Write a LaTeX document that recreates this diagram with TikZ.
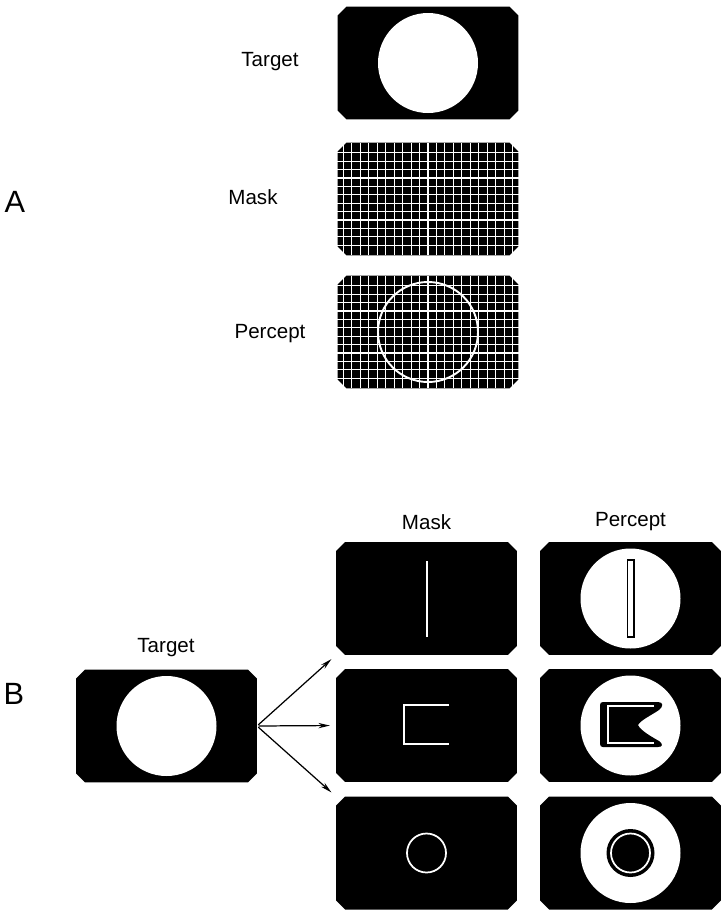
\documentclass[tikz,border=0pt]{standalone}
\usepackage{fontspec}
\setmainfont{Liberation Sans}
\usetikzlibrary{arrows.meta, calc}

\begin{document}
\begin{tikzpicture}[x=0.02cm, y=-0.02cm]
      \tikzset{screen/.style={rectangle,
          inner sep=0pt, outer sep=0pt,
          minimum width=3.62cm, minimum height=2.26cm},
        lbl/.style={font=\fontsize{11.7}{14}\selectfont, inner sep=0pt},
        big/.style={font=\fontsize{17.5}{20}\selectfont, inner sep=0pt},
        gridline/.style={white, line width=0.6pt},
        wline/.style={white, line width=1pt},
        arr/.style={-{Stealth[length=6.5pt, width=3pt]}, line width=0.7pt, shorten >=3.5pt, shorten <=1pt}
      }
      \useasboundingbox (0,0) rectangle (726,913);

      % part A
      \node [big] (A) at (15,202) {A};
      \node [screen] (tA) at (428,63) {};
      \node [screen] (mA) at (428,199) {};
      \node [screen] (pA) at (428,332) {};
      \node [lbl] (ltA) at (270,62) {Target};
      \node [lbl] (lmA) at (253,197) {Mask};
      \node [lbl] (lpA) at (270,334) {Percept};

      % part B
      \node [big] (B) at (14,694) {B};
      \node [screen] (tB) at (166.5,726) {};
      \node [lbl] (ltB) at (166,648) {Target};
      \foreach \r/\y in {1/598.5, 2/725.5, 3/853} {
        \node [screen] (mB\r) at (426.5,\y) {};
        \node [screen] (pB\r) at (630.5,\y) {};
      }
      \node [lbl] (lmB) at (426.5,522) {Mask};
      \node [lbl] (lpB) at (630.5,522) {Percept};

      % black screens with cut corners
      \foreach \s in {tA,mA,pA,tB,mB1,mB2,mB3,pB1,pB2,pB3}
        \fill ($(\s.north west)+(9,0)$) -- ($(\s.north east)+(-9,0)$) -- ($(\s.north east)+(0,9)$)
          -- ($(\s.south east)+(0,-9)$) -- ($(\s.south east)+(-9,0)$) -- ($(\s.south west)+(9,0)$)
          -- ($(\s.south west)+(0,-9)$) -- ($(\s.north west)+(0,9)$) -- cycle;

      \fill [white] (tA) circle (50);
      \foreach \cy in {199,332} {
        \foreach \i in {0,...,20}
          \draw [gridline] (428+8.45*\i-84.5,\cy-56) -- (428+8.45*\i-84.5,\cy+56);
        \foreach \j in {0,...,11}
          \draw [gridline] (337,\cy+8.4*\j-46.2) -- (519,\cy+8.4*\j-46.2);
      }
      \draw [white, line width=1.1pt] (pA) circle (50);

      \fill [white] (tB) circle (50);
      \foreach \r in {1,2,3}
        \fill [white] (pB\r) circle (50);

      % masks
      \draw [wline] (427,561) -- (427,637);
      \draw [wline] (449,705) -- (404,705) -- (404,744) -- (449,744);
      \draw [wline] (mB3) circle (19.5);

      % percepts
      \draw [line width=0.8pt] (627.5,560) rectangle (634,637);
      \fill (603,702) -- (658,702) .. controls (664,702) and (663,707) .. (659,710)
        .. controls (650,716) and (641,720) .. (638,725)
        .. controls (641,731) and (652,737) .. (659,741)
        .. controls (663,744) and (663,747) .. (658,747) -- (603,747)
        .. controls (601,747) and (600,746) .. (600,744) -- (600,705)
        .. controls (600,703) and (601,702) .. (603,702) -- cycle;
      \draw [wline] (654,706) -- (608,706) -- (608,743) -- (654,743);
      \fill (pB3) circle (24);
      \draw [wline] (pB3) circle (19.5);

      \draw [arr] (tB.east) -- (mB1.south west);
      \draw [arr] (tB.east) -- (mB2.west);
      \draw [arr] (tB.east) -- (mB3.north west);
    \end{tikzpicture}
\end{document}
